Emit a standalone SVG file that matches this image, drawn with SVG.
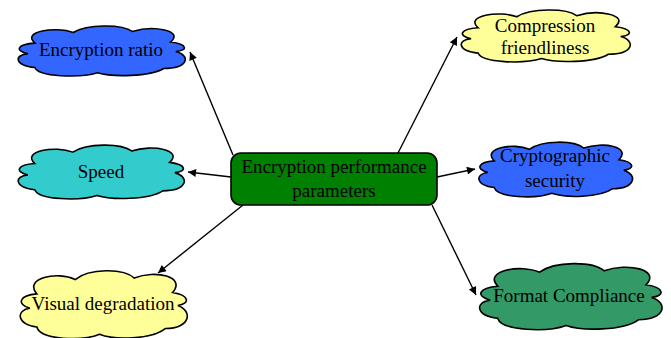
<svg xmlns="http://www.w3.org/2000/svg" width="671" height="338" viewBox="0 0 671 338">
<style>
.cloud{stroke:#000;stroke-width:1.6;}
text{font-family:'Liberation Serif','Times New Roman',Times,'DejaVu Serif',serif;font-size:19px;fill:#000;text-anchor:middle;}
.edge{stroke:#000;stroke-width:1.4;fill:none;marker-end:url(#ah);}
</style>
<defs>
<marker id="ah" viewBox="0 0 10 10" refX="10" refY="5" markerWidth="11" markerHeight="8" markerUnits="userSpaceOnUse" orient="auto">
<path d="M0,0 L10,5 L0,10 Z" fill="#000"/>
</marker>
<path id="cl" vector-effect="non-scaling-stroke" d="M 12,36 C 4,14 24,4 34,16 C 42,0 62,0 68,14 C 80,2 98,12 90,34 C 100,38 100,50 93,52 C 102,60 100,84 86,84 C 78,100 56,100 48,92 C 38,102 14,100 12,82 C 0,78 0,58 8,56 C 0,50 2,38 12,36 Z"/>
</defs>
<g id="connectors">
<line class="edge" x1="233" y1="155" x2="190" y2="52"/>
<line class="edge" x1="398" y1="153" x2="457" y2="37"/>
<line class="edge" x1="231" y1="177" x2="188" y2="172"/>
<line class="edge" x1="437" y1="177" x2="475" y2="169"/>
<line class="edge" x1="243" y1="205" x2="158" y2="273"/>
<line class="edge" x1="432" y1="205" x2="476" y2="295"/>
</g>
<g id="center">
<rect x="231" y="153" width="206" height="52" rx="10" ry="10" fill="#008000" stroke="#000" stroke-width="1.6"/>
<text x="334" y="173">Encryption performance</text>
<text x="334" y="197">parameters</text>
</g>
<g id="encryption-ratio">
<use href="#cl" class="cloud" fill="#3366ff" transform="translate(14,24) scale(1.74,0.53)"/>
<text x="101" y="56">Encryption ratio</text>
</g>
<g id="compression">
<use href="#cl" class="cloud" fill="#ffff99" transform="translate(457,8) scale(1.76,0.55)"/>
<text x="545" y="32">Compression</text>
<text x="545" y="54">friendliness</text>
</g>
<g id="speed">
<use href="#cl" class="cloud" fill="#33cccc" transform="translate(14,143) scale(1.73,0.57)"/>
<text x="101" y="178">Speed</text>
</g>
<g id="crypto">
<use href="#cl" class="cloud" fill="#3366ff" transform="translate(475,140) scale(1.6,0.58)"/>
<text x="555" y="162">Cryptographic</text>
<text x="555" y="187">security</text>
</g>
<g id="visual">
<use href="#cl" class="cloud" fill="#ffff99" transform="translate(16,268) scale(1.74,0.72)"/>
<text x="103" y="310">Visual degradation</text>
</g>
<g id="format">
<use href="#cl" class="cloud" fill="#339966" transform="translate(475,261) scale(1.9,0.7)"/>
<text x="569" y="302">Format Compliance</text>
</g>
</svg>
